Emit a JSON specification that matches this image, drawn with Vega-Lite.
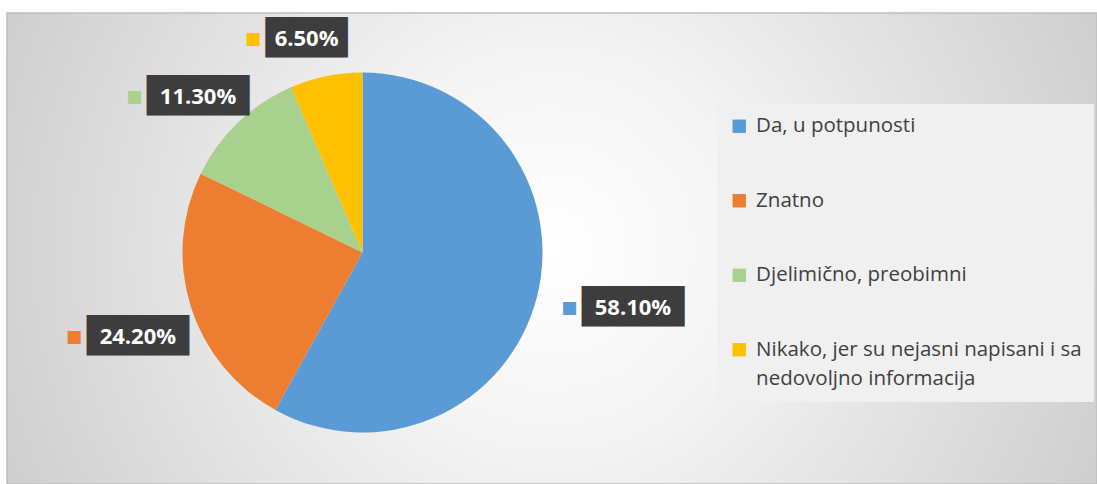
{
  "$schema": "https://vega.github.io/schema/vega-lite/v6.json",
  "width": 1097,
  "height": 484,
  "autosize": {"type": "fit", "contains": "padding"},
  "padding": {"left": 7, "top": 13, "right": 0, "bottom": 0},
  "background": "#ffffff",
  "config": {
    "view": {
      "fill": {
        "gradient": "radial",
        "x1": 0.5, "y1": 0.5, "r1": 0,
        "x2": 0.5, "y2": 0.5, "r2": 0.72,
        "stops": [
          {"offset": 0, "color": "#ffffff"},
          {"offset": 0.25, "color": "#f4f4f4"},
          {"offset": 1, "color": "#bcbcbc"}
        ]
      },
      "stroke": "#bfbfbf",
      "strokeWidth": 1.5
    }
  },
  "data": {
    "values": [
      {"cat": "Da, u potpunosti", "value": 58.1, "label": "58.10%"},
      {"cat": "Znatno", "value": 24.2, "label": "24.20%"},
      {"cat": "Djelimično, preobimni", "value": 11.3, "label": "11.30%"},
      {"cat": "Nikako, jer su nejasni napisani i sa nedovoljno informacija", "value": 6.5, "label": "6.50%"}
    ]
  },
  "transform": [
    {"window": [{"op": "row_number", "as": "rank"}]},
    {"calculate": "slice('██████████', 0, length(datum.label) - 1)", "as": "blocks"}
  ],
  "encoding": {
    "theta": {"field": "value", "type": "quantitative", "stack": true},
    "order": {"field": "rank", "type": "quantitative"}
  },
  "layer": [
    {
      "mark": {"type": "arc", "outerRadius": 180},
      "encoding": {
        "x": {"value": 355.5},
        "y": {"value": 239.5},
        "color": {
          "field": "cat",
          "type": "nominal",
          "scale": {
            "domain": ["Da, u potpunosti", "Znatno", "Djelimično, preobimni", "Nikako, jer su nejasni napisani i sa nedovoljno informacija"],
            "range": ["#5B9BD5", "#ED7D31", "#A9D18E", "#FFC000"]
          },
          "legend": {
            "title": null,
            "orient": "none",
            "legendX": 710,
            "legendY": 91,
            "fillColor": "#f0f0f0",
            "padding": 12,
            "symbolType": "square",
            "symbolSize": 180,
            "symbolStrokeWidth": 0,
            "labelFont": "Open Sans",
            "labelFontSize": 20.5,
            "labelColor": "#404040",
            "labelOffset": 6.6,
            "rowPadding": 53.5,
            "labelLimit": 400,
            "labelExpr": "datum.label == 'Nikako, jer su nejasni napisani i sa nedovoljno informacija' ? ['Nikako, jer su nejasni napisani i sa', 'nedovoljno informacija'] : datum.label",
            "encode": {"labels": {"update": {"lineHeight": {"value": 29}}}}
          }
        }
      }
    },
    {
      "mark": {"type": "text", "font": "DejaVu Sans Mono", "fontSize": 34, "color": "#3d3d3d", "thetaOffset": -0.052},
      "encoding": {
        "x": {"value": 355.5},
        "y": {"value": 239.5},
        "detail": {"field": "cat"},
        "radius": {"field": "value", "type": "quantitative", "scale": {"type": "linear", "domain": [0, 58.1], "range": [214, 276], "zero": false}},
        "text": {"field": "blocks"}
      }
    },
    {
      "mark": {"type": "text", "font": "DejaVu Sans", "fontSize": 17, "thetaOffset": -0.052, "dx": {"expr": "-10.25 * (length(datum.label) - 1) - 12.5"}},
      "encoding": {
        "x": {"value": 355.5},
        "y": {"value": 239.5},
        "radius": {"field": "value", "type": "quantitative"},
        "color": {"field": "cat", "type": "nominal", "legend": null},
        "text": {"value": "■"}
      }
    },
    {
      "mark": {"type": "text", "font": "Open Sans", "fontWeight": "bold", "fontSize": 22, "color": "#ffffff", "thetaOffset": -0.052},
      "encoding": {
        "x": {"value": 355.5},
        "y": {"value": 239.5},
        "detail": {"field": "cat"},
        "radius": {"field": "value", "type": "quantitative"},
        "text": {"field": "label"}
      }
    }
  ]
}
